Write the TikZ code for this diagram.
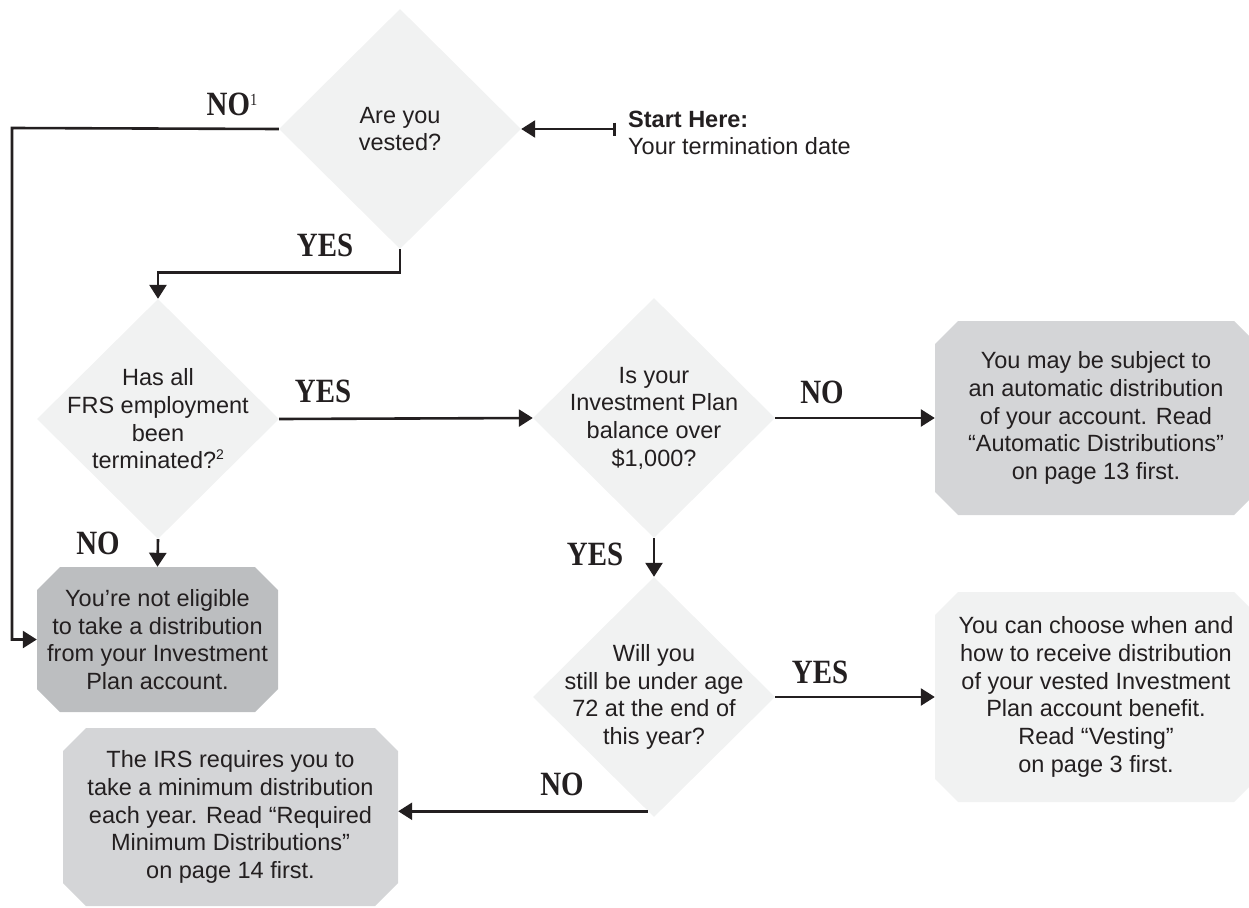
\documentclass[tikz,border=0pt]{standalone}
\usepackage{fontspec}
\setmainfont{Liberation Sans}
\newfontfamily\lblfont[FakeStretch=0.85]{Liberation Serif}
\usetikzlibrary{shapes.geometric,arrows.meta}

\definecolor{ink}{RGB}{35,31,32}
\definecolor{palegray}{RGB}{241,242,242}
\definecolor{midgray}{RGB}{212,213,215}
\definecolor{shadegray}{RGB}{188,190,192}

\begin{document}
\begin{tikzpicture}[x=1pt,y=-1pt,
    font=\fontsize{23.5}{27.7}\selectfont, text=ink,
    decision/.style={diamond, fill=palegray, minimum width=242pt, minimum height=240pt, inner sep=0pt},
    question/.style={align=center, inner sep=0pt},
    outcome/.style={rectangle, fill=white, inner sep=0pt, align=center,
        path picture={\fill[#1] ([xshift=23pt]path picture bounding box.north west)
            -- ([xshift=-23pt]path picture bounding box.north east)
            -- ([yshift=-23pt]path picture bounding box.north east)
            -- ([yshift=23pt]path picture bounding box.south east)
            -- ([xshift=-23pt]path picture bounding box.south east)
            -- ([xshift=23pt]path picture bounding box.south west)
            -- ([yshift=23pt]path picture bounding box.south west)
            -- ([yshift=-23pt]path picture bounding box.north west) -- cycle;}},
    flow/.style={draw=ink, line width=2.6pt, -{Triangle[length=14pt,width=17pt]}},
    answer/.style={font=\lblfont\bfseries\fontsize{34}{34}\selectfont, inner sep=0pt}]
            \useasboundingbox (0,0) rectangle (1249,907);

            % Questions
            \node[decision, label={[question]center:{Are you\\vested?}}] (vested) at (400,129) {};
            \node[decision, label={[question]center:{Has all\\FRS employment\\been\\terminated?\raisebox{9pt}{\fontsize{14}{14}\selectfont 2}}}] (ended) at (158,419) {};
            \node[decision, label={[question]center:{Is your\\Investment Plan\\balance over\\\$1,000?}}] (balance) at (654,418) {};
            \node[decision, label={[question]center:{Will you\\still be under age\\72 at the end of\\this year?}}] (age) at (654,697) {};

            % Outcomes
            \node[outcome=midgray, minimum width=322pt, minimum height=194pt] (auto) at (1096,418)
                {You may be subject to\\an automatic distribution\\of your account. Read\\“Automatic Distributions”\\on page 13 first.};
            \node[outcome=shadegray, minimum width=241pt, minimum height=145pt] (noelig) at (157.5,639.5)
                {You’re not eligible\\to take a distribution\\from your Investment\\Plan account.};
            \node[outcome=palegray, minimum width=322pt, minimum height=210pt] (choose) at (1096,697)
                {You can choose when and\\how to receive distribution\\of your vested Investment\\Plan account benefit.\\Read “Vesting”\\on page 3 first.};
            \node[outcome=midgray, minimum width=335pt, minimum height=178pt] (irs) at (230.5,817)
                {The IRS requires you to\\take a minimum distribution\\each year. Read “Required\\Minimum Distributions”\\on page 14 first.};

            % Start
            \node[align=left, anchor=west, inner sep=0pt] (start) at (628,133) {\textbf{Start Here:}\\Your termination date};
            \coordinate (tail) at (616,129);
            \coordinate (noturn) at (12,128);

            % Connectors
            \draw[flow, {Bar[width=13pt]}-{Triangle[length=14pt,width=17pt]}] (tail) -- (vested.east);
            \draw[flow] (vested.west) -- (noturn) |- (noelig.west);
            \draw[flow] (vested.south) -- ++(0,23) -| (ended.north);
            \draw[flow] (ended.east) -- (balance.west);
            \draw[flow] (ended.south) -- (noelig.north);
            \draw[flow] (balance.east) -- (auto.west);
            \draw[flow] (balance.south) -- (age.north);
            \draw[flow] (age.east) -- (choose.west);
            \draw[flow] (age.267) -- (age.267 -| irs.east);

            % Answers
            \node[answer] (no1) at (232,104) {NO\raisebox{10pt}{\fontsize{17}{17}\selectfont\mdseries 1}};
            \node[answer] (yes1) at (325,245) {YES};
            \node[answer] (yes2) at (323,391) {YES};
            \node[answer] (no2) at (98,543) {NO};
            \node[answer] (no3) at (822,392) {NO};
            \node[answer] (yes3) at (595,554) {YES};
            \node[answer] (yes4) at (820,672) {YES};
            \node[answer] (no4) at (562,784) {NO};
        \end{tikzpicture}
\end{document}
